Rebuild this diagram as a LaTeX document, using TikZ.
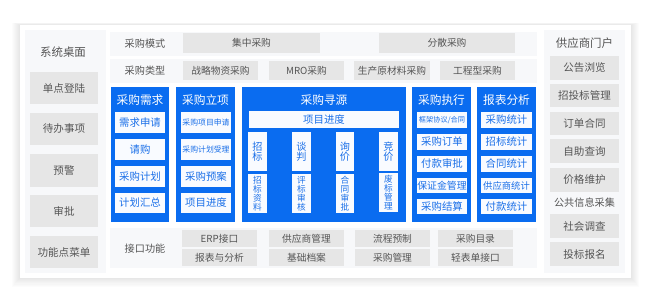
\documentclass[tikz,border=0pt]{standalone}
\usepackage{fontspec}
\setmainfont{Noto Sans CJK SC}
\definecolor{mainblue}{HTML}{0A6CF0}
\definecolor{boxgray}{HTML}{E6E6E6}
\definecolor{panelbg}{HTML}{F7F8FA}
\definecolor{txtgray}{HTML}{555555}
\definecolor{btxt}{HTML}{1A6FE8}
\definecolor{wbox}{HTML}{F9FBFF}
\newcommand\mybox[7]{%
  \pgfmathsetmacro\mywd{(#5-#3)*0.75}%
  \pgfmathsetmacro\myht{(#6-#4)*0.75}%
  \node[#1, minimum width=\mywd pt, minimum height=\myht pt] (#2) at ({(#3+#5)/2},{(#4+#6)/2}) {#7};}
\tikzset{
  panel/.style={fill=panelbg, draw=none, inner sep=0pt},
  gbox/.style={fill=boxgray, text=txtgray, inner sep=0pt, align=center, font=\fontsize{7.3}{9}\selectfont},
  lbox/.style={gbox, font=\fontsize{7.9}{9}\selectfont},
  bcol/.style={fill=mainblue, inner sep=0pt},
  wb/.style={fill=wbox, text=btxt, inner sep=0pt, align=center, font=\fontsize{7.8}{9}\selectfont},
  wbs/.style={wb, font=\fontsize{5.9}{7}\selectfont},
  vbox/.style={wb, font=\fontsize{7.6}{7.8}\selectfont},
  vboxs/.style={wb, font=\fontsize{6.5}{6.7}\selectfont},
  ctitle/.style={text=white, inner sep=0pt, font=\fontsize{8.8}{10}\selectfont},
  lbl/.style={text=txtgray, inner sep=0pt, font=\fontsize{7.6}{9}\selectfont},
  lbig/.style={text=txtgray, inner sep=0pt, font=\fontsize{8.6}{10}\selectfont}
}
\begin{document}
\begin{tikzpicture}[x=0.75pt, y=-0.75pt]
\useasboundingbox (0,0) rectangle (650,306);
% shadow and outer panel
\foreach \i in {1,...,8}{
  \fill[black, opacity=0.012] (20-\i,25-\i*0.3) rectangle (631+\i,278+\i*1.1);
}
\fill[white] (20,25) rectangle (631,278);
% left panel
\mybox{panel}{lp}{25}{30}{106}{273}{}
\node[lbig] (ltitle) at (63,52) {系统桌面};
\mybox{lbox}{l1}{30}{72}{98}{104}{单点登陆}
\mybox{lbox}{l2}{30}{113}{98}{145}{待办事项}
\mybox{lbox}{l3}{30}{154}{98}{187}{预警}
\mybox{lbox}{l4}{30}{195}{98}{227}{审批}
\mybox{lbox}{l5}{30}{236}{98}{268}{功能点菜单}
% top rows
\mybox{panel}{r1}{110}{32}{537}{56}{}
\mybox{panel}{r2}{110}{59}{537}{83}{}
\node[lbl] (r1t) at (145,44) {采购模式};
\node[lbl] (r2t) at (145,71) {采购类型};
\mybox{gbox}{m1}{183}{33}{320}{53}{集中采购}
\mybox{gbox}{m2}{379}{33}{515}{53}{分散采购}
\mybox{gbox}{t1}{183}{61}{258}{80}{战略物资采购}
\mybox{gbox}{t2}{269}{61}{344}{80}{MRO采购}
\mybox{gbox}{t3}{354}{61}{430}{80}{生产原材料采购}
\mybox{gbox}{t4}{440}{61}{515}{80}{工程型采购}
% blue columns
\mybox{bcol}{c1}{111}{87}{169}{222}{}
\mybox{bcol}{c2}{176}{87}{235}{222}{}
\mybox{bcol}{c3}{242}{87}{406}{222}{}
\mybox{bcol}{c4}{412}{87}{471}{222}{}
\mybox{bcol}{c5}{477}{87}{536}{222}{}
\node[ctitle] (c1t) at (140,100) {采购需求};
\node[ctitle] (c2t) at (205.5,100) {采购立项};
\node[ctitle] (c3t) at (324,100) {采购寻源};
\node[ctitle] (c4t) at (441.5,100) {采购执行};
\node[ctitle] (c5t) at (506.5,100) {报表分析};
% column 1
\mybox{wb}{a1}{115}{112}{165}{133}{需求申请}
\mybox{wb}{a2}{115}{139}{165}{160}{请购}
\mybox{wb}{a3}{115}{166}{165}{187}{采购计划}
\mybox{wb}{a4}{115}{193}{165}{213}{计划汇总}
% column 2
\mybox{wbs}{b1}{181}{112}{231}{133}{采购项目申请}
\mybox{wbs}{b2}{181}{139}{231}{160}{采购计划受理}
\mybox{wb}{b3}{181}{166}{231}{187}{采购预案}
\mybox{wb}{b4}{181}{193}{231}{213}{项目进度}
% column 3
\mybox{wb}{s0}{249}{111}{399}{128}{项目进度}
\mybox{vbox}{s1}{248}{132}{267}{171}{招\\标}
\mybox{vbox}{s2}{292}{132}{311}{171}{谈\\判}
\mybox{vbox}{s3}{336}{132}{354}{171}{询\\价}
\mybox{vbox}{s4}{379}{132}{398}{171}{竞\\价}
\mybox{vboxs}{s5}{248}{174}{267}{213}{招\\标\\资\\料}
\mybox{vboxs}{s6}{292}{174}{311}{213}{评\\标\\审\\核}
\mybox{vboxs}{s7}{336}{174}{354}{213}{合\\同\\审\\批}
\mybox{vboxs}{s8}{379}{173}{398}{212}{废\\标\\管\\理}
% column 4
\mybox{wb, font=\fontsize{5.4}{6}\selectfont}{e1}{417}{112}{467}{128}{框架协议/合同}
\mybox{wb}{e2}{417}{134}{467}{150}{采购订单}
\mybox{wb}{e3}{417}{156}{467}{172}{付款审批}
\mybox{wb, font=\fontsize{7.4}{9}\selectfont}{e4}{417}{178}{467}{193}{保证金管理}
\mybox{wb}{e5}{417}{199}{467}{214}{采购结算}
% column 5
\mybox{wb}{f1}{481}{112}{532}{128}{采购统计}
\mybox{wb}{f2}{481}{134}{532}{150}{招标统计}
\mybox{wb}{f3}{481}{156}{532}{172}{合同统计}
\mybox{wb, font=\fontsize{7}{9}\selectfont}{f4}{481}{178}{532}{193}{供应商统计}
\mybox{wb}{f5}{481}{199}{532}{214}{付款统计}
% interface row
\mybox{panel}{ir}{110}{228}{537}{268}{}
\node[lbl] (irt) at (145,249) {接口功能};
\mybox{gbox}{i1}{182}{230}{257}{247}{ERP接口}
\mybox{gbox}{i2}{269}{230}{344}{247}{供应商管理}
\mybox{gbox}{i3}{355}{230}{430}{247}{流程预制}
\mybox{gbox}{i4}{438}{230}{513}{247}{采购目录}
\mybox{gbox}{i5}{182}{249}{257}{266}{报表与分析}
\mybox{gbox}{i6}{269}{249}{344}{266}{基础档案}
\mybox{gbox}{i7}{355}{249}{430}{266}{采购管理}
\mybox{gbox}{i8}{438}{249}{513}{266}{轻表单接口}
% right panel
\mybox{panel}{rp}{544}{30}{625}{273}{}
\node[lbig] (rtitle) at (584.5,43) {供应商门户};
\mybox{lbox}{p1}{550}{56}{619}{80}{公告浏览}
\mybox{lbox}{p2}{550}{84}{619}{107}{招投标管理}
\mybox{lbox}{p3}{550}{112}{619}{135}{订单合同}
\mybox{lbox}{p4}{550}{139}{619}{163}{自助查询}
\mybox{lbox}{p5}{550}{168}{619}{192}{价格维护}
\node[lbl] (p6) at (584.5,203) {公共信息采集};
\mybox{lbox}{p7}{550}{214}{619}{238}{社会调查}
\mybox{lbox}{p8}{550}{242}{619}{266}{投标报名}
\end{tikzpicture}
\end{document}
